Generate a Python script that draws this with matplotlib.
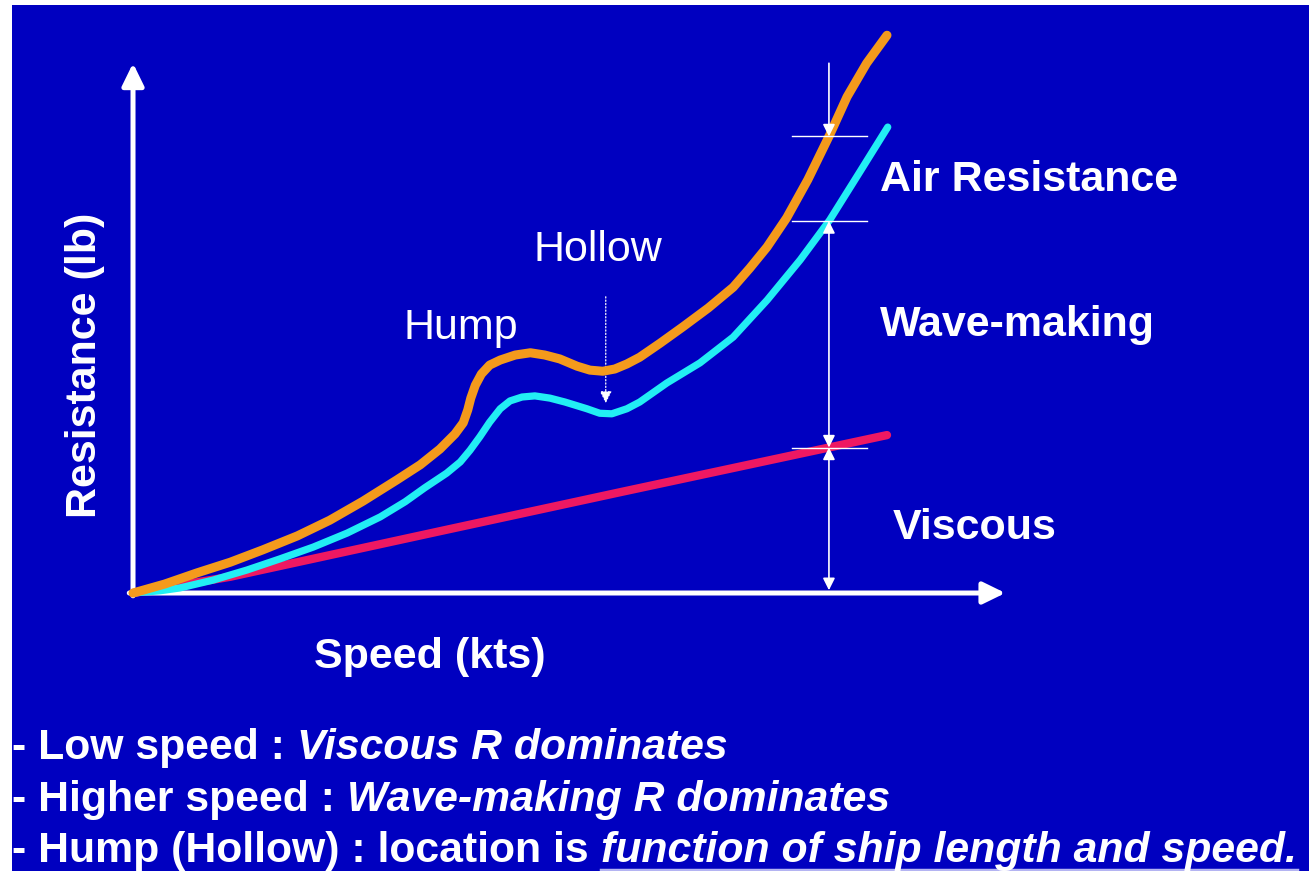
import numpy as np
import matplotlib
matplotlib.use("Agg")
import matplotlib.pyplot as plt

# resistance curves (arbitrary units)
speed_total = [0.00, 0.42, 0.85, 1.29, 1.72, 2.18, 2.61, 3.05, 3.50, 3.81, 4.07, 4.27,
               4.38, 4.44, 4.48, 4.54, 4.62, 4.73, 4.87, 5.07, 5.27, 5.46, 5.66, 5.89,
               6.06, 6.23, 6.39, 6.55, 6.72, 6.99, 7.29, 7.63, 7.96, 8.18, 8.41, 8.67,
               8.95, 9.24, 9.47, 9.73, 10.00]
res_total = [0.0, 1.6, 3.6, 5.5, 7.7, 10.2, 13.0, 16.4, 20.2, 22.9, 25.7, 28.4,
             30.4, 32.7, 34.8, 37.1, 39.1, 40.7, 41.6, 42.5, 42.9, 42.5, 41.8, 40.5,
             39.8, 39.6, 40.0, 40.9, 42.1, 44.6, 47.5, 50.9, 54.6, 58.0, 61.8, 67.0,
             73.8, 81.8, 88.6, 94.6, 99.6]

speed_wave = [0.00, 0.36, 0.62, 1.06, 1.51, 1.95, 2.39, 2.84, 3.28, 3.61, 3.87, 4.16,
              4.34, 4.47, 4.60, 4.73, 4.87, 5.00, 5.16, 5.33, 5.53, 5.73, 6.02, 6.19,
              6.35, 6.55, 6.72, 7.08, 7.52, 7.96, 8.41, 8.85, 9.24, 9.64, 10.01]
res_wave = [0.0, 0.4, 0.9, 2.3, 4.1, 6.1, 8.2, 10.7, 13.6, 16.3, 18.8, 21.4,
            23.4, 25.5, 27.9, 30.5, 32.9, 34.3, 35.0, 35.2, 34.8, 34.1, 32.9, 32.1,
            32.0, 32.9, 34.1, 37.5, 41.1, 45.7, 52.3, 59.5, 66.6, 75.2, 83.2]

speed_visc = [0.00, 1.29, 4.16, 6.46, 10.00]
res_visc = [0.0, 2.9, 11.3, 18.0, 28.2]

dim_speed = 9.23
hollow_speed = 6.27

bullets = [
    ("- Low speed : ", "Viscous R dominates", False),
    ("- Higher speed : ", "Wave-making R dominates", False),
    ("- Hump (Hollow) : location is ", "function of ship length and speed.", True),
]

BLUE = "#0000C0"
ORANGE = "#F49A1C"
CYAN = "#22EEF4"
RED = "#EE1862"

fig = plt.figure(figsize=(13.09, 8.71), dpi=100, facecolor="white")
ax = fig.add_axes([12 / 1309, 0, 1 - 12 / 1309, 1 - 5 / 871])
ax.set_facecolor(BLUE)
ax.set_xlim(-1.605, 15.597)
ax.set_ylim(-49.64, 105.0)
ax.set_xticks([])
ax.set_yticks([])
for s in ax.spines.values():
    s.set_visible(False)

# axes arrows
big = dict(arrowstyle="-|>,head_length=0.45,head_width=0.22", color="white",
           lw=3.6, mutation_scale=30, shrinkA=0, shrinkB=0)
ax.annotate("", xy=(0, 94.6), xytext=(0, -0.5), arrowprops=big)
ax.annotate("", xy=(11.57, 0), xytext=(-0.05, 0), arrowprops=big)

# curves
ax.plot(speed_visc, res_visc, color=RED, lw=6, solid_capstyle="round", zorder=3)
ax.plot(speed_wave, res_wave, color=CYAN, lw=5.2, solid_capstyle="round",
        solid_joinstyle="round", zorder=4)
ax.plot(speed_total, res_total, color=ORANGE, lw=6.5, solid_capstyle="round",
        solid_joinstyle="round", zorder=5)

# dimension line at the right
lv_total = np.interp(dim_speed, speed_total, res_total)
lv_wave = np.interp(dim_speed, speed_wave, res_wave)
lv_visc = np.interp(dim_speed, speed_visc, res_visc)
for lv in (lv_total, lv_wave, lv_visc):
    ax.plot([dim_speed - 0.49, dim_speed + 0.5], [lv, lv], color="white", lw=1.0, zorder=6)
small = dict(color="white", lw=1.2, mutation_scale=12, shrinkA=0, shrinkB=0)
ax.annotate("", xy=(dim_speed, lv_total), xytext=(dim_speed, 94.6),
            arrowprops=dict(arrowstyle="-|>,head_length=0.6,head_width=0.3", **small), zorder=6)
ax.annotate("", xy=(dim_speed, lv_visc), xytext=(dim_speed, lv_wave),
            arrowprops=dict(arrowstyle="<|-|>,head_length=0.6,head_width=0.3", **small), zorder=6)
ax.annotate("", xy=(dim_speed, 0.5), xytext=(dim_speed, lv_visc),
            arrowprops=dict(arrowstyle="<|-|>,head_length=0.6,head_width=0.3", **small), zorder=6)

# hollow marker
ax.annotate("", xy=(hollow_speed, 33.9), xytext=(hollow_speed, 52.9),
            arrowprops=dict(arrowstyle="-|>,head_length=0.6,head_width=0.3", color="white",
                            lw=0.9, linestyle=":", mutation_scale=12, shrinkA=0, shrinkB=0))

bold = dict(color="white", fontsize=31, fontweight="bold", family="Liberation Sans")
ax.text(-0.637, 40.7, "Resistance (lb)", rotation=90, ha="center", va="center", **bold)
ax.text(3.94, -11.4, "Speed (kts)", ha="center", va="center", **bold)
ax.text(9.907, 73.75, "Air Resistance", ha="left", va="center", **bold)
ax.text(9.907, 47.86, "Wave-making", ha="left", va="center", **bold)
ax.text(10.08, 11.6, "Viscous", ha="left", va="center", **bold)

plain = dict(color="white", fontsize=31, family="Liberation Sans")
ax.text(5.305, 61.25, "Hollow", ha="left", va="center", **plain)
ax.text(3.581, 47.3, "Hump", ha="left", va="center", **plain)

# bullet lines at the bottom
line_y = [-27.7, -37.0, -46.1]
under = None
for (lead, emph, ul), y in zip(bullets, line_y):
    t1 = ax.text(-1.6, y, lead, ha="left", va="center", color="white", fontsize=30.8,
                 fontweight="bold", family="Liberation Sans")
    t2 = ax.annotate(emph, xy=(1, 0), xycoords=t1, ha="left", va="bottom", color="white",
                     fontsize=30.8, fontweight="bold", fontstyle="italic",
                     family="Liberation Sans")
    if ul:
        under = t2

fig.canvas.draw()
bb = under.get_window_extent().transformed(ax.transData.inverted())
ax.plot([bb.x0, bb.x1], [bb.y0 + 0.2, bb.y0 + 0.2], color="#B4B4F2", lw=2.5, zorder=2)

fig.savefig("out.png", dpi=100, facecolor="white")
